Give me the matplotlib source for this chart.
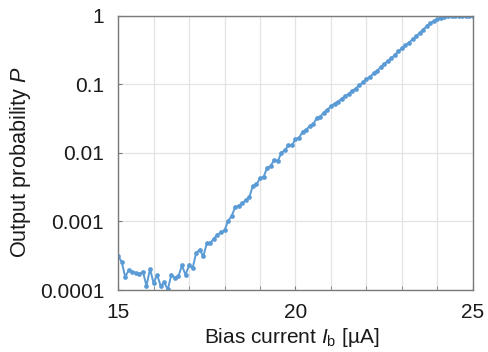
import numpy as np
import matplotlib
matplotlib.use("Agg")
import matplotlib.pyplot as plt
from matplotlib.ticker import FixedLocator, NullLocator

plt.rcParams['font.family'] = ['Liberation Sans', 'DejaVu Sans']
plt.rcParams['mathtext.fontset'] = 'custom'
plt.rcParams['mathtext.rm'] = 'Liberation Sans'
plt.rcParams['mathtext.it'] = 'Liberation Sans:italic'

# Bias current sweep (uA), 0.1 uA steps
bias_current = np.round(np.arange(15.0, 25.0001, 0.1), 1)

# Output probability
probability = [
    3.1e-4, 2.6e-4, 1.55e-4, 1.95e-4, 1.86e-4, 1.78e-4, 1.70e-4, 1.86e-4, 1.15e-4, 2.04e-4,
    1.26e-4, 1.66e-4, 1.15e-4, 1.29e-4, 1.02e-4, 1.66e-4, 1.51e-4, 1.58e-4, 2.29e-4, 1.66e-4,
    2.29e-4, 2.09e-4, 3.47e-4, 3.89e-4, 3.09e-4, 4.79e-4, 4.90e-4, 5.62e-4, 6.46e-4, 6.92e-4,
    7.41e-4, 1.02e-3, 1.20e-3, 1.62e-3, 1.70e-3, 1.86e-3, 2.04e-3,
    2.29e-3, 3.31e-3, 3.47e-3, 4.27e-3, 4.47e-3, 6.03e-3, 6.46e-3, 7.94e-3, 7.59e-3,
    1.00e-2, 1.10e-2, 1.29e-2, 1.29e-2, 1.58e-2, 1.66e-2, 2.04e-2, 2.19e-2, 2.45e-2, 2.63e-2,
    3.24e-2, 3.39e-2, 3.89e-2, 4.27e-2, 4.79e-2, 5.25e-2, 5.62e-2,
    6.17e-2, 6.76e-2, 7.24e-2, 8.13e-2, 8.71e-2, 9.77e-2, 0.107, 0.120, 0.129, 0.145,
    0.158, 0.178, 0.200, 0.219, 0.240, 0.269, 0.302, 0.339, 0.372, 0.407,
    0.457, 0.501, 0.562, 0.631, 0.708, 0.785, 0.832, 0.891, 0.933, 0.966,
    0.982, 0.991, 0.993, 0.995, 0.995, 0.998, 0.998, 0.998,
]

ytick_vals = [1e-4, 1e-3, 1e-2, 1e-1, 1]
ytick_labels = ['0.0001', '0.001', '0.01', '0.1', '1']
xtick_vals = [15, 20, 25]

fig = plt.figure(figsize=(4.88, 3.52), dpi=100)
ax = fig.add_axes([0.242, 0.176, 0.727, 0.779])

ax.plot(bias_current, probability, '-o', color='#5b9bd5', linewidth=1.4,
        markersize=3.4, markeredgewidth=0)

ax.set_yscale('log')
ax.set_xlim(15, 25)
ax.set_ylim(1e-4, 1)

ax.yaxis.set_major_locator(FixedLocator(ytick_vals))
ax.set_yticklabels(ytick_labels)
ax.yaxis.set_minor_locator(NullLocator())
ax.xaxis.set_major_locator(FixedLocator(xtick_vals))
ax.xaxis.set_minor_locator(FixedLocator(range(16, 25)))

ax.grid(True, which='both', color='#e3e3e3', linewidth=0.9)
ax.set_axisbelow(True)
for s in ax.spines.values():
    s.set_color('#7a7a7a')
    s.set_linewidth(1.0)

ax.tick_params(axis='both', which='both', direction='in', length=3,
               color='#7a7a7a', labelsize=15, labelcolor='#1a1a1a')
ax.tick_params(axis='y', which='major', pad=10)
ax.tick_params(axis='x', which='major', pad=9)

ax.set_xlabel(r'Bias current $I_\mathrm{b}$ [µA]', fontsize=15, color='#1a1a1a')
ax.set_ylabel(r'Output probability $P$', fontsize=15.6, color='#1a1a1a')
ax.xaxis.set_label_coords(0.49, -0.13)
ax.yaxis.set_label_coords(-0.24, 0.467)

fig.savefig('out.png', dpi=100)
